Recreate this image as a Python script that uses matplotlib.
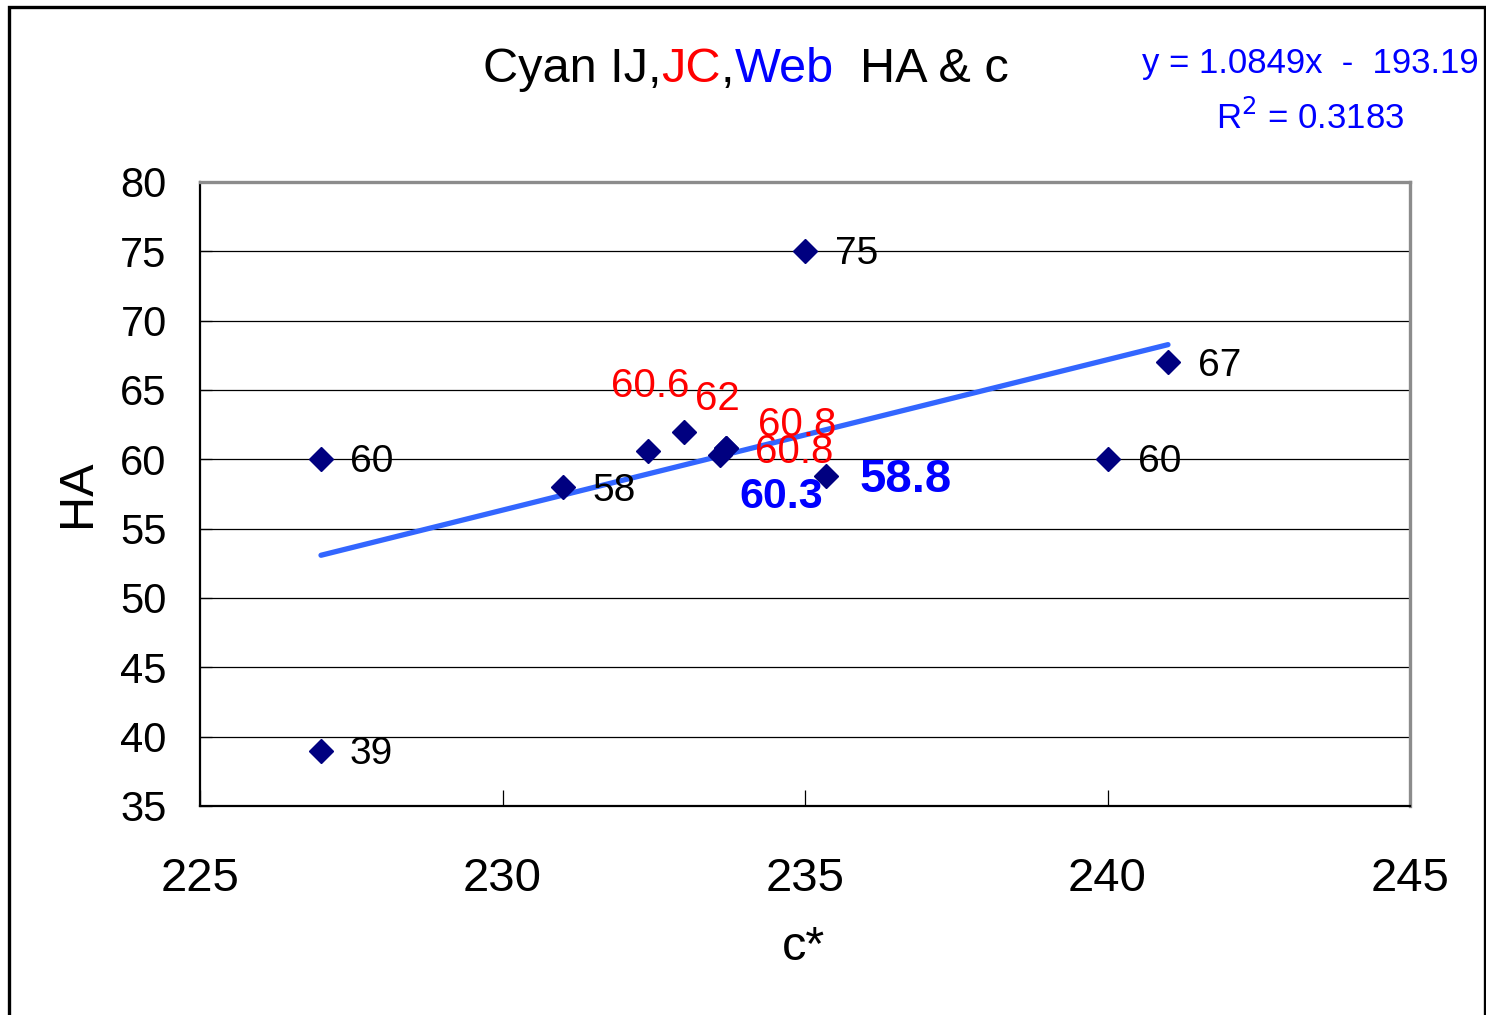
import matplotlib
matplotlib.use("Agg")
import matplotlib.pyplot as plt
from matplotlib.patches import Rectangle
from matplotlib.offsetbox import TextArea, HPacker, AnnotationBbox
import numpy as np

plt.rcParams['font.family'] = ['Liberation Sans', 'DejaVu Sans']

# ---- data ----
c_star = [227, 227, 231, 232.4, 233.0, 233.7, 233.7, 233.6, 235.0, 235.35, 240, 241]
ha = [60, 39, 58, 60.6, 62, 60.8, 60.8, 60.3, 75, 58.8, 60, 67]
labels = ["60", "39", "58", "60.6", "62", "60.8", "60.8", "60.3", "75", "58.8", "60", "67"]
label_colors = ["black", "black", "black", "red", "red", "red", "red", "#0000FF",
                "black", "#0000FF", "black", "black"]
slope, intercept = 1.0849, -193.19
r2 = 0.3183
x_ticks = [225, 230, 235, 240, 245]
y_ticks = [35, 40, 45, 50, 55, 60, 65, 70, 75, 80]

# label placement (pixel offsets from point) and styles
label_offsets = [(29, -3), (29, -3), (29, -4), (-37, 65), (11, 33), (32, 23), (29, -4),
                 (19, -42), (30, -3), (33, -4), (30, -3), (30, -4)]
label_sizes = [28, 28, 28, 29, 29, 29, 29, 31, 28, 34, 28, 28]
label_weights = ["normal"] * 7 + ["bold", "normal", "bold", "normal", "normal"]

W, H = 1486, 1015
fig = plt.figure(figsize=(W / 100, H / 100), dpi=100)
ax = fig.add_axes([200 / W, 1 - 806 / H, 1210 / W, 624 / H])

ax.set_xlim(225, 245)
ax.set_ylim(35, 80)

# grid
for yv in y_ticks[1:-1]:
    ax.axhline(yv, color="black", lw=0.9, zorder=1)

# trendline
xl = np.array([min(c_star), max(c_star)])
ax.plot(xl, slope * xl + intercept, color="#3366FF", lw=3.8, zorder=2,
        solid_capstyle="round")

# points
ax.plot(c_star, ha, linestyle="none", marker="D", markersize=12,
        color="#000080", zorder=3)

for x, y, t, c, off, s, w in zip(c_star, ha, labels, label_colors, label_offsets,
                                 label_sizes, label_weights):
    ax.annotate(t, (x, y), xytext=off, textcoords="offset pixels",
                ha="left", va="center", color=c, fontsize=s, fontweight=w, zorder=4)

# spines
for side in ["left", "bottom"]:
    ax.spines[side].set_color("black")
    ax.spines[side].set_linewidth(1.6)
for side in ["top", "right"]:
    ax.spines[side].set_color("#8c8c8c")
    ax.spines[side].set_linewidth(2.4)

ax.set_xticks(x_ticks)
ax.set_yticks(y_ticks)
ax.tick_params(axis="x", direction="in", length=11.5, width=0.9, labelsize=34, pad=37)
ax.tick_params(axis="y", direction="in", length=8.5, width=0.9, labelsize=30, pad=24)

fig.text(78 / W, 1 - 493 / H, "HA", rotation=90, ha="center", va="center", fontsize=35)
fig.text(803 / W, 1 - 948 / H, "c*", ha="center", va="center", fontsize=35)

# title with colored parts
tp = dict(fontsize=35, color="black")
parts = [
    TextArea("Cyan IJ,", textprops=dict(tp)),
    TextArea("JC", textprops=dict(tp, color="red")),
    TextArea(",", textprops=dict(tp)),
    TextArea("Web", textprops=dict(tp, color="#0000FF")),
    TextArea("  HA & c", textprops=dict(tp)),
]
box = HPacker(children=parts, pad=0, sep=0, align="baseline")
ab = AnnotationBbox(box, (746 / W, 1 - 69 / H), xycoords="figure fraction",
                    box_alignment=(0.5, 0.5), frameon=False)
fig.add_artist(ab)

# equation
fig.text(1310 / W, 1 - 63 / H, "y = 1.0849x  -  193.19", ha="center", va="center",
         fontsize=25, color="#0000FF")
fig.text(1310 / W, 1 - 118 / H, "R$^{2}$ = %.4f" % r2, ha="center", va="center",
         fontsize=25, color="#0000FF")

# outer border
fig.add_artist(Rectangle((9 / W, -0.02), 1476 / W, 1.02 - 7 / H,
                         transform=fig.transFigure, fill=False,
                         edgecolor="black", lw=2.4))

fig.savefig("out.png", dpi=100)
